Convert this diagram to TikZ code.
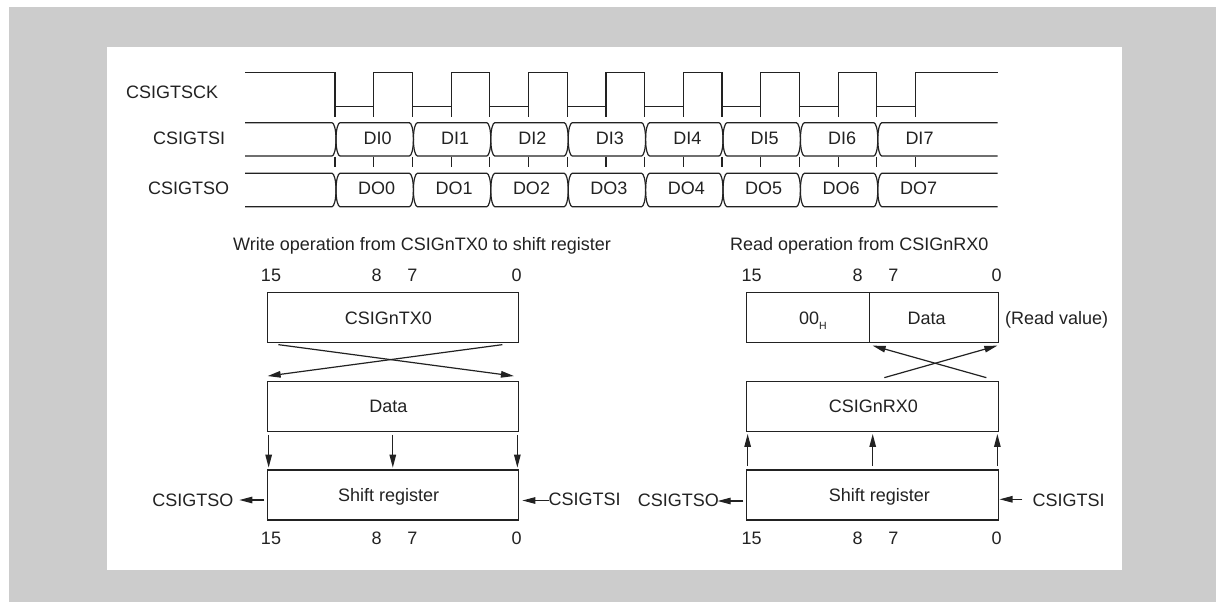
\documentclass[tikz,border=0pt]{standalone}
\usepackage{fontspec}
\setmainfont{Liberation Sans}
\usetikzlibrary{arrows.meta,calc}
\definecolor{bggray}{HTML}{CCCCCC}
\definecolor{ink}{HTML}{222222}
\begin{document}
\begin{tikzpicture}[x=1pt,y=-1pt,
  font=\fontsize{18}{22}\selectfont,
  wave/.style={draw=ink, line width=1.2pt, line join=miter},
  regbox/.style={draw=ink, line width=1.3pt, minimum height=50pt, inner sep=0pt},
  arr/.style={draw=ink, line width=1.2pt, -{Triangle[length=13pt,width=6.5pt]}},
  lbl/.style={inner sep=0pt, anchor=base, text=ink},
  lblw/.style={inner sep=0pt, anchor=base west, text=ink},
  lble/.style={inner sep=0pt, anchor=base east, text=ink}]
\useasboundingbox (0,0) rectangle (1216,602);
\fill[white] (0,0) rectangle (1216,602);
\fill[bggray] (9,7) rectangle (1216,602);
\fill[white] (107,47) rectangle (1122,570);

% ---------------- timing diagram ----------------
\node[lblw] (nsck) at (126,99) {CSIGTSCK};
\node[lblw] (nsi) at (153,144) {CSIGTSI};
\node[lblw] (nso) at (148,194) {CSIGTSO};

\draw[wave] (245,72.7) -- (335,72.7)
  \foreach \k in {0,...,7}{ -- ({335+77.4*\k},106.7) -- ({373.7+77.4*\k},106.7)
     -- ({373.7+77.4*\k},72.7) -- ({412.4+77.4*\k},72.7) } -- (997.7,72.7);

\foreach \k in {0,...,7}{
  \draw[wave] ({335+77.4*\k},106.7) -- ++(0,10.3);
  \draw[wave] ({373.7+77.4*\k},106.7) -- ++(0,10.3);
  \draw[wave] ({335+77.4*\k},156.7) -- ++(0,10.6);
  \draw[wave] ({373.7+77.4*\k},156.7) -- ++(0,10.6);
}

\foreach \T/\M/\B in {122.7/139.35/156, 173.3/190/206.7}{
  % leading segment
  \draw[wave] (245,\T) -- (332,\T) .. controls (334,\T) and (336,{\M-10}) .. (336,\M)
     .. controls (336,{\M+10}) and (334,\B) .. (332,\B) -- (245,\B);
  % data cells 0..6
  \foreach \k in {0,...,6}{
    \pgfmathsetmacro\a{336+77.4*\k}
    \pgfmathsetmacro\b{336+77.4*(\k+1)}
    \draw[wave] (\a,\M) .. controls (\a,{\M-10}) and ({\a+2},\T) .. ({\a+4},\T)
      -- ({\b-4},\T) .. controls ({\b-2},\T) and (\b,{\M-10}) .. (\b,\M)
      .. controls (\b,{\M+10}) and ({\b-2},\B) .. ({\b-4},\B)
      -- ({\a+4},\B) .. controls ({\a+2},\B) and (\a,{\M+10}) .. (\a,\M) -- cycle;
  }
  % last cell
  \pgfmathsetmacro\a{336+77.4*7}
  \draw[wave] (997.7,\T) -- ({\a+4},\T) .. controls ({\a+2},\T) and (\a,{\M-10}) .. (\a,\M)
     .. controls (\a,{\M+10}) and ({\a+2},\B) .. ({\a+4},\B) -- (997.7,\B);
}

\foreach \k in {0,...,7}{
  \node[lbl] (di\k) at ({377.7+77.4*\k},144) {DI\k};
  \node[lbl] (do\k) at ({376.7+77.4*\k},194) {DO\k};
}

% ---------------- write operation ----------------
\node[lblw] (wtitle) at (233,250.5) {Write operation from CSIGnTX0 to shift register};
\node[lbl] (wt15) at (271,281.5) {15};
\node[lbl] (wt8) at (376.7,281.5) {8};
\node[lbl] (wt7) at (412.3,281.5) {7};
\node[lbl] (wt0) at (516.7,281.5) {0};

\node[regbox, minimum width=251pt] (tx) at (392.8,317.7) {};
\node[regbox, minimum width=251pt] (data) at (392.8,406.7) {};
\node[regbox, minimum width=251pt] (shl) at (392.8,495) {};
\node[lbl] (txl) at (388.3,324.2) {CSIGnTX0};
\node[lbl] (datal) at (388.3,412.6) {Data};
\node[lbl] (shll) at (388.7,501.5) {Shift register};

\draw[arr] ($(tx.south west)+(11.7,1.3)$) -- ($(data.north east)+(-5,-5)$);
\draw[arr] ($(tx.south east)+(-16.6,1.3)$) -- ($(data.north west)+(1,-5)$);

\draw[arr] ($(data.south west)+(2,2.6)$) -- ($(shl.north west)+(2,-1.7)$);
\draw[arr] ($(data.south)+(0,2.6)$) -- ($(shl.north)+(0,-1.7)$);
\draw[arr] ($(data.south east)+(-1.6,2.6)$) -- ($(shl.north east)+(-1.6,-1.7)$);

\node[lble] (lso) at (233.5,506.5) {CSIGTSO};
\node[lblw] (lsi) at (548.5,505.5) {CSIGTSI};
\draw[arr] ($(shl.west)+(-2.3,5)$) -- ($(shl.west)+(-27.3,5)$);
\draw[arr] ($(shl.east)+(30,5.5)$) -- ($(shl.east)+(3.4,5.5)$);

\node[lbl] (wb15) at (271,544) {15};
\node[lbl] (wb8) at (376.7,544) {8};
\node[lbl] (wb7) at (412.3,544) {7};
\node[lbl] (wb0) at (516.7,544) {0};

% ---------------- read operation ----------------
\node[lblw] (rtitle) at (730,250.5) {Read operation from CSIGnRX0};
\node[lbl] (rt15) at (751.7,281.5) {15};
\node[lbl] (rt8) at (857.7,281.5) {8};
\node[lbl] (rt7) at (893.3,281.5) {7};
\node[lbl] (rt0) at (996.7,281.5) {0};

\node[regbox, minimum width=122.6pt] (zero) at (808,317.7) {};
\node[regbox, minimum width=129pt] (rdata) at (933.8,317.7) {};
\node[lbl] (zerol) at (813,324.2) {00{\fontsize{10.5}{12}\selectfont\raisebox{-5.3pt}{H}}};
\node[lbl] (rdatal) at (926.7,324.2) {Data};
\node[lblw] (rval) at (1005,324.2) {(Read value)};

\node[regbox, minimum width=251.6pt] (rx) at (872.5,406.7) {};
\node[regbox, minimum width=251.6pt] (shr) at (872.5,495) {};
\node[lbl] (rxl) at (873.3,412.6) {CSIGnRX0};
\node[lbl] (shrl) at (879.3,501.5) {Shift register};

\draw[arr] ($(rx.north)+(11.8,-3.4)$) -- ($(rdata.south east)+(-1.6,2.3)$);
\draw[arr] ($(rx.north east)+(-12.6,-3.4)$) -- ($(rdata.south west)+(4,2.3)$);

\draw[arr] ($(shr.north west)+(1.6,-3.3)$) -- ($(rx.south west)+(1.6,1.6)$);
\draw[arr] ($(shr.north)+(0.2,-3.3)$) -- ($(rx.south)+(0.2,1.6)$);
\draw[arr] ($(shr.north east)+(-1.6,-3.3)$) -- ($(rx.south east)+(-1.6,1.6)$);

\node[lble] (rso) at (719,506.5) {CSIGTSO};
\node[lblw] (rsi) at (1032.5,506) {CSIGTSI};
\draw[arr] ($(shr.west)+(-2.7,6)$) -- ($(shr.west)+(-28.4,6)$);
\draw[arr] ($(shr.east)+(23.4,4.3)$) -- ($(shr.east)+(0.6,4.3)$);

\node[lbl] (rb15) at (751.7,544) {15};
\node[lbl] (rb8) at (857.7,544) {8};
\node[lbl] (rb7) at (893.3,544) {7};
\node[lbl] (rb0) at (996.7,544) {0};
\end{tikzpicture}
\end{document}
